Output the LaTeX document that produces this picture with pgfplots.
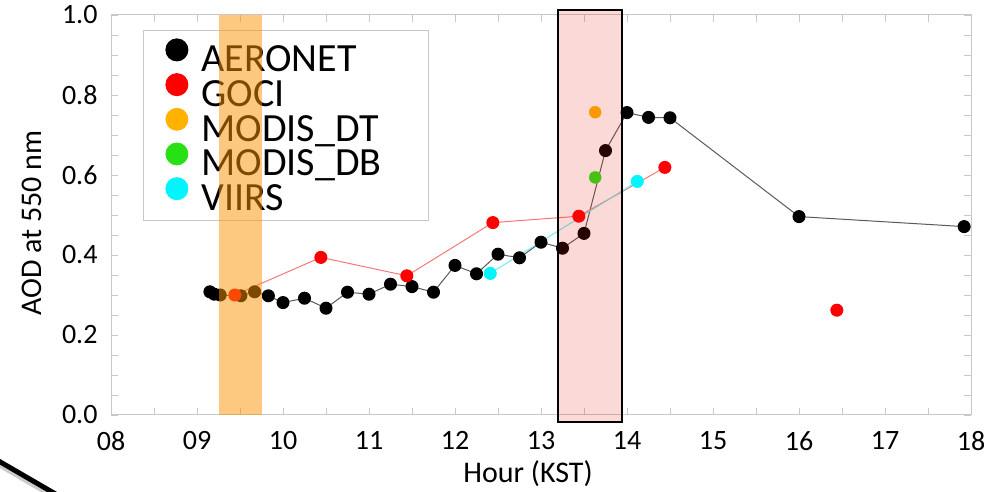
\documentclass[border=0pt]{standalone}
\usepackage{fontspec}
\setmainfont{Carlito}
\usepackage{pgfplots}
\pgfplotsset{compat=1.18}

\definecolor{framegray}{RGB}{200,200,200}
\definecolor{aeroline}{RGB}{90,90,90}
\definecolor{gociRed}{RGB}{255,0,0}
\definecolor{gociLine}{RGB}{245,120,120}
\definecolor{dtOrange}{RGB}{255,178,0}
\definecolor{dbGreen}{RGB}{40,225,20}
\definecolor{viirsCyan}{RGB}{0,245,255}
\definecolor{viirsLine}{RGB}{110,235,240}
\definecolor{bandOrange}{RGB}{251,145,0}
\definecolor{boxPink}{RGB}{225,30,20}

% fixed-size legend label
\newcommand{\lgd}[1]{\raisebox{0pt}[27pt][6pt]{\makebox[203pt][l]{#1}}}

\begin{document}
\begin{tikzpicture}[x=1pt,y=1pt]
\useasboundingbox (0,0) rectangle (988,492);

% slide decoration, bottom left
\draw[line width=6pt, gray!40] (-10,33) -- (62,-9);
\draw[line width=5pt, black] (-10,36) -- (60,-4.6);

\begin{axis}[
    scale only axis,
    width=860pt, height=400pt,
    at={(111pt,77pt)}, anchor=south west,
    xmin=8, xmax=18,
    ymin=0, ymax=1,
    xtick={8,...,18},
    xticklabels={08,09,10,11,12,13,14,15,16,17,18},
    minor x tick num=1,
    ytick={0,0.2,0.4,0.6,0.8,1.0},
    minor y tick num=3,
    yticklabel style={/pgf/number format/fixed, /pgf/number format/precision=1,
        /pgf/number format/fixed zerofill, xshift=-10pt},
    xticklabel style={yshift=-13pt},
    /pgf/number format/assume math mode=true,
    tick align=inside,
    major tick length=7pt, minor tick length=7pt,
    tick style={framegray, line width=0.8pt},
    axis line style={framegray, line width=1pt},
    tick label style={font=\fontsize{28}{30}\selectfont},
    xlabel={Hour (KST)},
    ylabel={AOD at 550 nm},
    every axis x label/.style={at={(axis description cs:0.485,-0.147)}, anchor=center,
        font=\fontsize{30}{32}\selectfont},
    every axis y label/.style={at={(axis description cs:-0.092,0.48)}, anchor=center, rotate=90,
        font=\fontsize{30}{32}\selectfont},
    clip=false,
    unbounded coords=jump,
    legend cell align=left,
    legend style={
        at={(axis description cs:0.0372,0.9625)}, anchor=north west,
        draw=framegray, line width=0.8pt, fill=white,
        font=\fontsize{40}{40}\selectfont,
        inner xsep=22pt, inner ysep=8pt,
        column sep=11pt, row sep=0pt,
        nodes={inner ysep=0pt},
    },
]

% AERONET
\addplot[color=aeroline, line width=1pt, mark=*, mark size=6pt,
    mark options={draw=black, fill=black, solid},
    legend image code/.code={\fill[black] (11pt,9pt) circle (11pt);}]
coordinates {
    (9.15,0.308) (9.20,0.302) (9.27,0.300) (9.51,0.298) (9.67,0.308)
    (9.83,0.298) (10.00,0.281) (10.25,0.292) (10.50,0.267) (10.75,0.307)
    (11.00,0.302) (11.25,0.327) (11.50,0.321) (11.75,0.307) (12.00,0.374)
    (12.25,0.353) (12.50,0.402) (12.75,0.393) (13.00,0.432) (13.25,0.417)
    (13.50,0.454) (13.75,0.661) (14.00,0.756) (14.25,0.744) (14.50,0.743)
    (16.00,0.496) (17.92,0.471)
};
\addlegendentry{\lgd{AERONET}}

% GOCI
\addplot[color=gociLine, line width=1pt, mark=*, mark size=6pt,
    mark options={draw=gociRed, fill=gociRed, solid},
    legend image code/.code={\fill[gociRed] (11pt,9pt) circle (11pt);}]
coordinates {
    (9.44,0.300) (10.44,0.394) (11.44,0.348) (12.44,0.481) (13.44,0.497)
    (14.44,0.619) (15.44,nan) (16.44,0.262)
};
\addlegendentry{\lgd{GOCI}}

% MODIS_DT
\addplot[only marks, mark=*, mark size=6pt,
    mark options={draw=dtOrange, fill=dtOrange},
    legend image code/.code={\fill[dtOrange] (11pt,9pt) circle (11pt);}]
coordinates {(13.63,0.757)};
\addlegendentry{\lgd{MODIS\_DT}}

% MODIS_DB
\addplot[only marks, mark=*, mark size=6pt,
    mark options={draw=dbGreen, fill=dbGreen},
    legend image code/.code={\fill[dbGreen] (11pt,9pt) circle (11pt);}]
coordinates {(13.63,0.594)};
\addlegendentry{\lgd{MODIS\_DB}}

% VIIRS
\addplot[color=viirsLine, line width=1pt, mark=*, mark size=6pt,
    mark options={draw=viirsCyan, fill=viirsCyan, solid},
    legend image code/.code={\fill[viirsCyan] (11pt,9pt) circle (11pt);}]
coordinates {(12.41,0.354) (14.12,0.584)};
\addlegendentry{\lgd{VIIRS}}

\coordinate (ob1) at (axis cs:9.26,0);
\coordinate (ob2) at (axis cs:9.75,1);
\coordinate (pb1) at (axis cs:13.2,-0.0175);
\coordinate (pb2) at (axis cs:13.94,1.0125);
\end{axis}

% highlighted time windows, laid over the plot
\fill[bandOrange, opacity=0.5] (ob1) rectangle (ob2);
\draw[black, line width=2pt, fill=boxPink, fill opacity=0.17] (pb1) rectangle (pb2);
\end{tikzpicture}
\end{document}
